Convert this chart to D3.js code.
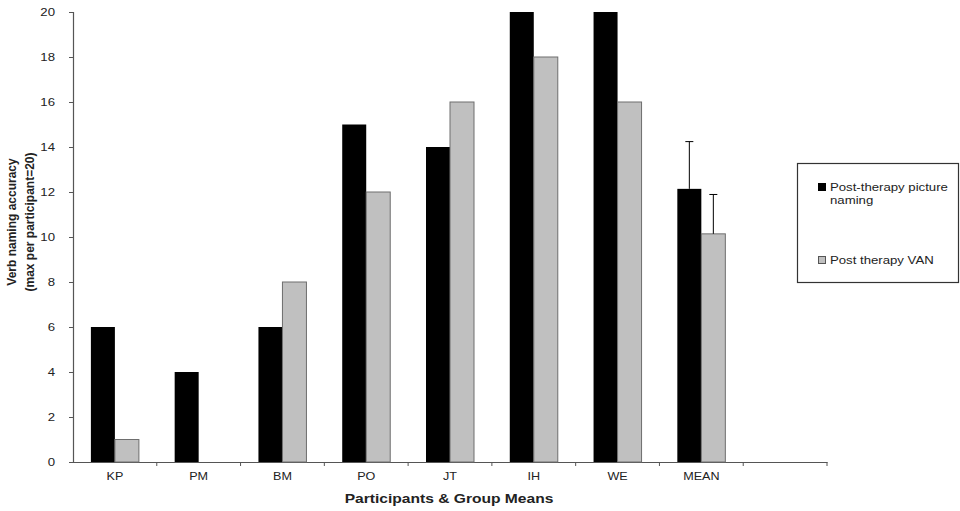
<!DOCTYPE html>
<html>
<head>
<meta charset="utf-8">
<script src="https://cdn.jsdelivr.net/npm/d3@7"></script>
<style>
  body { margin: 0; background: #fff; }
  svg { display: block; font-family: "Liberation Sans", Arial, sans-serif; }
</style>
</head>
<body>
<svg id="chart" width="960" height="511"></svg>
<script>
const categories = ["KP", "PM", "BM", "PO", "JT", "IH", "WE", "MEAN", ""];
const seriesNames = ["Post-therapy picture naming", "Post therapy VAN"];
const pictureNaming = [6, 4, 6, 15, 14, 20, 20, 12.14];
const vanValues = [1, 0, 8, 12, 16, 18, 16, 10.14];
const meanErrors = [2.1, 1.75]; // upward error bars on MEAN only
const yTicks = [0, 2, 4, 6, 8, 10, 12, 14, 16, 18, 20];

(function () {
const svg = d3.select("#chart");
const mLeft = 73, mRight = 827, mTop = 12, mBottom = 462;
const sx = 1.2; // horizontal text stretch seen in the reference

const x = d3.scaleBand().domain(categories).range([mLeft, mRight]).paddingInner(0).paddingOuter(0);
const y = d3.scaleLinear().domain([0, 20]).range([mBottom, mTop]);
const barW = 24;

// Y axis
const yAxis = svg.append("g").attr("transform", `translate(${mLeft},0)`)
  .call(d3.axisLeft(y).tickValues(yTicks).tickSize(4).tickPadding(11));
yAxis.select(".domain").attr("stroke", "#555").attr("stroke-width", 1.2);
yAxis.selectAll(".tick line").attr("stroke", "#555");
yAxis.selectAll("text").attr("font-size", 11).attr("fill", "#222")
  .attr("transform", `scale(${sx},1)`);

// X axis
const xAxis = svg.append("g").attr("transform", `translate(0,${mBottom})`)
  .call(d3.axisBottom(x).tickSize(0).tickPadding(11).tickSizeOuter(0));
xAxis.select(".domain").attr("stroke", "#555").attr("stroke-width", 1.2);
xAxis.selectAll("text").attr("font-size", 10.5).attr("fill", "#222")
  .attr("transform", `scale(${sx},1)`);
const boundaries = categories.map(c => x(c)).concat([x(categories[categories.length - 1]) + x.bandwidth()]);
svg.append("g").selectAll("line").data(boundaries.slice(1)).join("line")
  .attr("x1", d => d).attr("x2", d => d)
  .attr("y1", mBottom).attr("y2", mBottom + 4)
  .attr("stroke", "#555");

// Bars
const rows = categories.slice(0, pictureNaming.length).map((c, i) => ({ c, a: pictureNaming[i], b: vanValues[i] }));
const gBars = svg.append("g");
gBars.selectAll("rect.a").data(rows).join("rect").attr("class", "a")
  .attr("x", d => x(d.c) + x.bandwidth() / 2 - barW)
  .attr("y", d => y(d.a)).attr("width", barW).attr("height", d => y(0) - y(d.a))
  .attr("fill", "#000");
gBars.selectAll("rect.b").data(rows).join("rect").attr("class", "b")
  .attr("x", d => x(d.c) + x.bandwidth() / 2)
  .attr("y", d => y(d.b)).attr("width", barW).attr("height", d => y(0) - y(d.b))
  .attr("fill", "#c0c0c0").attr("stroke", "#6e6e6e").attr("stroke-width", 1);

// Error bars on MEAN
const meanIdx = categories.indexOf("MEAN");
const errData = [
  { cx: x("MEAN") + x.bandwidth() / 2 - barW / 2, v: pictureNaming[meanIdx], e: meanErrors[0] },
  { cx: x("MEAN") + x.bandwidth() / 2 + barW / 2, v: vanValues[meanIdx], e: meanErrors[1] }
];
const gErr = svg.append("g").attr("stroke", "#000").attr("stroke-width", 1);
errData.forEach(d => {
  gErr.append("line").attr("x1", d.cx).attr("x2", d.cx).attr("y1", y(d.v)).attr("y2", y(d.v + d.e));
  gErr.append("line").attr("x1", d.cx - 4).attr("x2", d.cx + 4).attr("y1", y(d.v + d.e)).attr("y2", y(d.v + d.e));
});

// Axis titles
svg.append("g").attr("transform", `translate(449,503) scale(${sx},1)`)
  .append("text").attr("text-anchor", "middle")
  .attr("font-size", 13).attr("font-weight", "bold").attr("fill", "#222")
  .text("Participants & Group Means");
const yt = svg.append("text").attr("transform", "translate(0,222) rotate(-90)")
  .attr("text-anchor", "middle").attr("font-size", 12).attr("font-weight", "bold").attr("fill", "#222");
yt.append("tspan").attr("x", 0).attr("y", 16).text("Verb naming accuracy");
yt.append("tspan").attr("x", 0).attr("y", 34).text("(max per participant=20)");

// Legend
const lg = svg.append("g");
lg.append("rect").attr("x", 797.5).attr("y", 163.5).attr("width", 161).attr("height", 119)
  .attr("fill", "#fff").attr("stroke", "#333").attr("stroke-width", 1.2);
lg.append("rect").attr("x", 818).attr("y", 183).attr("width", 8).attr("height", 8).attr("fill", "#000");
const t1 = lg.append("g").attr("transform", `translate(830,0) scale(${sx},1)`)
  .append("text").attr("font-size", 11).attr("fill", "#222");
t1.append("tspan").attr("x", 0).attr("y", 191).text("Post-therapy picture");
t1.append("tspan").attr("x", 0).attr("y", 204).text("naming");
lg.append("rect").attr("x", 818.5).attr("y", 256.5).attr("width", 7).attr("height", 7)
  .attr("fill", "#c0c0c0").attr("stroke", "#555");
lg.append("g").attr("transform", `translate(830,264) scale(${sx},1)`)
  .append("text").attr("font-size", 11).attr("fill", "#222").text(seriesNames[1]);
})();
</script>
</body>
</html>
